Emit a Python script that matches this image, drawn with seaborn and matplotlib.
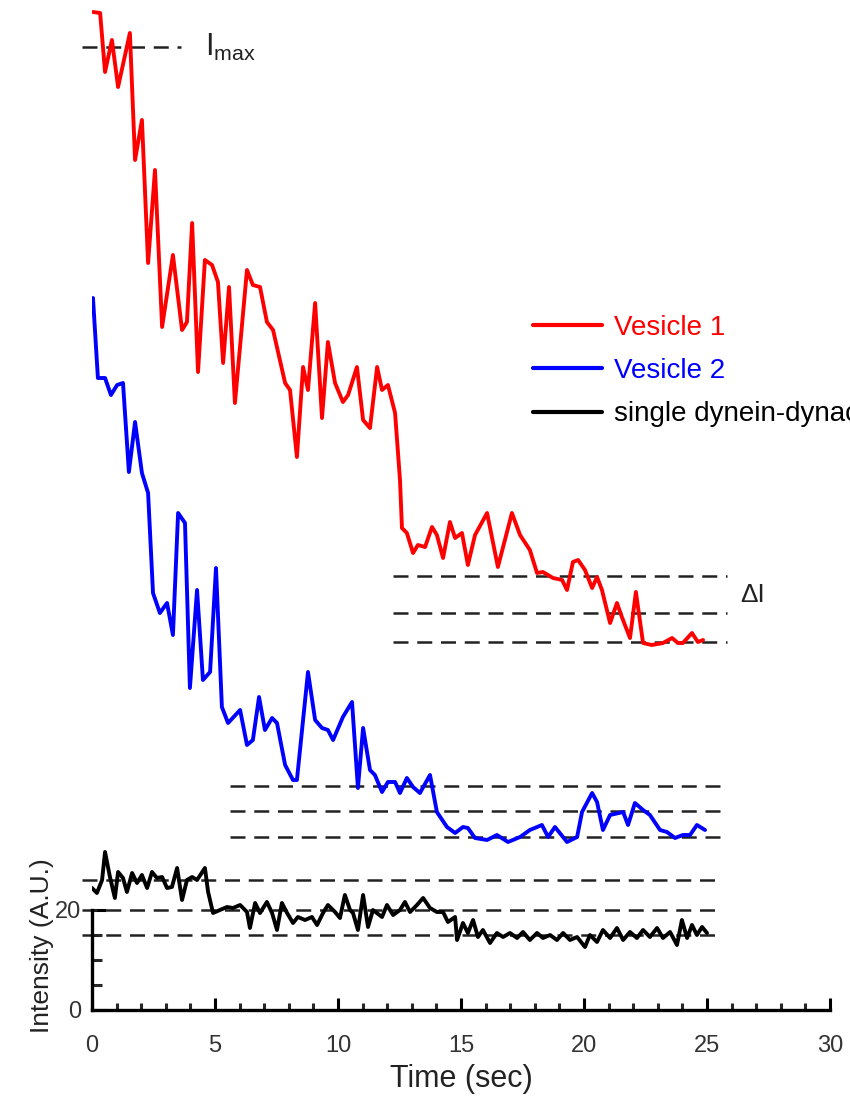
import numpy as np
import pandas as pd
import matplotlib
matplotlib.use("Agg")
import matplotlib.pyplot as plt
import seaborn as sns

# ---------------- data ----------------
red_t = [0.04, 0.33, 0.53, 0.81, 1.06, 1.54, 1.75, 2.03, 2.28, 2.56, 2.85, 3.29, 3.66, 3.86, 4.07,
         4.31, 4.59, 4.88, 5.12, 5.33, 5.57, 5.81, 6.30, 6.54, 6.83, 7.11, 7.36, 7.85, 8.05, 8.33,
         8.58, 8.78, 9.07, 9.35, 9.59, 9.88, 10.20, 10.41, 10.77, 11.02, 11.30, 11.59, 11.79, 12.03,
         12.32, 12.52, 12.60, 12.80, 13.05, 13.25, 13.54, 13.82, 14.02, 14.27, 14.55, 14.76, 15.04,
         15.28, 15.57, 16.06, 16.50, 17.07, 17.40, 17.80, 18.09, 18.33, 18.74, 19.11, 19.31, 19.55,
         19.76, 20.04, 20.33, 20.53, 20.73, 21.06, 21.34, 21.54, 21.87, 22.11, 22.40, 22.76, 23.21,
         23.58, 23.82, 24.02, 24.39, 24.63, 24.84]
red_i = [199.6, 199.4, 187.6, 194.0, 184.6, 195.4, 170.0, 178.0, 149.4, 168.0, 136.6, 151.0, 136.0,
         137.6, 157.4, 127.6, 150.0, 149.0, 145.6, 129.4, 144.6, 121.4, 148.0, 145.0, 144.6, 137.6,
         136.0, 125.4, 124.0, 110.6, 128.6, 124.0, 141.4, 118.4, 133.6, 125.4, 121.6, 123.0, 128.6,
         118.0, 116.4, 128.6, 124.0, 125.0, 119.4, 106.0, 96.4, 95.4, 91.4, 93.0, 92.6, 96.6, 95.0,
         90.4, 97.6, 94.4, 95.4, 89.0, 95.0, 99.4, 88.6, 99.4, 95.0, 92.0, 87.4, 87.6, 86.4, 86.0,
         84.0, 89.6, 90.0, 88.0, 84.4, 86.6, 84.0, 77.4, 81.4, 78.6, 74.4, 83.6, 73.4, 73.0, 73.4,
         74.4, 73.4, 73.4, 75.4, 73.6, 74.0]

blue_t = [0.04, 0.24, 0.53, 0.77, 1.02, 1.26, 1.50, 1.75, 2.03, 2.28, 2.48, 2.76, 3.05, 3.29, 3.50,
          3.78, 3.98, 4.27, 4.51, 4.80, 5.04, 5.28, 5.53, 6.02, 6.30, 6.54, 6.79, 7.03, 7.32, 7.52,
          7.85, 8.17, 8.33, 8.78, 9.07, 9.35, 9.59, 9.80, 10.20, 10.57, 10.81, 11.02, 11.30, 11.50,
          11.79, 12.03, 12.32, 12.52, 12.80, 13.05, 13.33, 13.74, 14.02, 14.43, 14.76, 15.08, 15.28,
          15.57, 16.06, 16.46, 16.91, 17.40, 17.80, 18.29, 18.54, 18.82, 19.31, 19.72, 19.92, 20.33,
          20.53, 20.77, 21.06, 21.59, 21.79, 22.07, 22.40, 22.68, 23.09, 23.37, 23.70, 24.02, 24.31,
          24.59, 24.92]
blue_i = [142.4, 126.4, 126.4, 123.0, 125.0, 125.4, 107.6, 117.6, 107.4, 103.4, 83.4, 79.4, 81.4,
          75.0, 99.4, 97.4, 64.4, 84.0, 66.0, 67.6, 88.4, 60.6, 57.4, 60.0, 53.0, 54.0, 62.6, 56.0,
          58.4, 57.4, 49.0, 46.0, 46.0, 67.6, 58.0, 56.4, 56.0, 54.0, 58.6, 61.6, 44.4, 56.4, 48.0,
          47.0, 43.6, 45.6, 45.6, 43.4, 46.4, 44.6, 43.4, 47.0, 39.6, 36.6, 35.4, 36.6, 36.4, 34.4,
          34.0, 35.0, 33.6, 34.6, 36.0, 37.0, 34.6, 36.6, 33.6, 34.6, 39.6, 43.4, 41.6, 36.0, 39.0,
          39.6, 37.0, 41.4, 40.0, 39.0, 36.0, 35.6, 34.4, 35.0, 35.0, 37.0, 36.0]

black_t = [0.00, 0.20, 0.41, 0.53, 0.73, 0.93, 1.06, 1.26, 1.42, 1.63, 1.83, 2.03, 2.24, 2.44, 2.64,
           2.85, 3.05, 3.25, 3.46, 3.66, 3.86, 4.07, 4.27, 4.59, 4.72, 4.92, 5.20, 5.49, 5.73, 6.02,
           6.30, 6.42, 6.63, 6.83, 7.11, 7.32, 7.52, 7.72, 7.93, 8.17, 8.37, 8.66, 8.94, 9.15, 9.39,
           9.59, 9.88, 10.08, 10.28, 10.49, 10.61, 10.81, 11.02, 11.22, 11.42, 11.79, 11.99, 12.24,
           12.52, 12.72, 12.93, 13.21, 13.46, 13.74, 14.02, 14.27, 14.47, 14.76, 14.84, 15.08, 15.28,
           15.49, 15.69, 15.89, 16.18, 16.46, 16.71, 16.99, 17.28, 17.52, 17.80, 18.09, 18.33, 18.62,
           18.90, 19.15, 19.43, 19.72, 20.04, 20.24, 20.53, 20.77, 21.06, 21.34, 21.59, 21.87, 22.15,
           22.40, 22.68, 22.97, 23.21, 23.50, 23.78, 23.98, 24.19, 24.39, 24.59, 24.80, 25.00]
black_i = [24.4, 23.4, 26.0, 31.6, 26.6, 22.4, 27.6, 26.4, 23.6, 27.4, 25.4, 27.0, 24.4, 27.6, 26.4,
           26.6, 24.4, 24.6, 28.4, 22.0, 26.0, 26.6, 26.0, 28.4, 23.6, 19.4, 20.0, 20.6, 20.4, 21.0,
           19.6, 16.4, 21.4, 19.4, 21.6, 19.4, 16.0, 21.4, 19.4, 17.4, 18.6, 18.0, 18.6, 17.0, 19.4,
           21.0, 19.6, 18.4, 23.0, 20.0, 19.4, 16.0, 23.0, 16.6, 20.0, 18.6, 21.0, 19.0, 20.0, 21.6,
           19.6, 21.0, 22.4, 20.4, 19.6, 19.6, 17.6, 18.6, 14.0, 17.4, 15.4, 18.0, 14.6, 16.0, 13.4,
           15.4, 14.6, 15.4, 14.4, 15.6, 14.0, 15.4, 14.4, 15.0, 14.0, 15.4, 14.0, 14.6, 12.6, 15.0,
           13.6, 16.0, 14.4, 16.4, 14.0, 15.6, 14.4, 16.0, 14.6, 16.4, 14.4, 15.6, 13.0, 18.0, 14.4,
           17.0, 15.0, 16.6, 15.4]

series_labels = ["Vesicle 1", "Vesicle 2", "single dynein-dynactin"]
series_colors = ["#ff0000", "#0000ff", "#000000"]

imax_level = 192.6
red_levels = [86.8, 79.4, 73.6]
blue_levels = [44.8, 39.8, 34.6]
black_levels = [26.0, 20.0, 15.0]

x_ticks = [0, 5, 10, 15, 20, 25, 30]
y_ticks = [0, 20]

# ---------------- plot ----------------
sns.set_style("white")
plt.rcParams["font.family"] = ["Liberation Sans", "DejaVu Sans"]
plt.rcParams["mathtext.fontset"] = "custom"
plt.rcParams["mathtext.rm"] = "Liberation Sans"
plt.rcParams["mathtext.it"] = "Liberation Sans"

fig = plt.figure(figsize=(8.5, 11.01), dpi=100)
ax = fig.add_axes([92 / 850, 91 / 1101, 738 / 850, 1010 / 1101])

dash_kw = dict(color="#222222", lw=1.8, dashes=(6, 3.5))

ax.plot([-0.4, 3.6], [imax_level, imax_level], clip_on=False, **dash_kw)
for lv in red_levels:
    ax.plot([12.24, 25.8], [lv, lv], clip_on=False, **dash_kw)
for lv in blue_levels:
    ax.plot([5.6, 25.8], [lv, lv], clip_on=False, **dash_kw)
for lv in black_levels:
    ax.plot([-0.4, 25.4], [lv, lv], clip_on=False, **dash_kw)

df_red = pd.DataFrame({"t": red_t, "i": red_i})
df_blue = pd.DataFrame({"t": blue_t, "i": blue_i})
df_black = pd.DataFrame({"t": black_t, "i": black_i})

sns.lineplot(data=df_red, x="t", y="i", ax=ax, color=series_colors[0], lw=2.8,
             label=series_labels[0], sort=False, estimator=None)
sns.lineplot(data=df_blue, x="t", y="i", ax=ax, color=series_colors[1], lw=2.8,
             label=series_labels[1], sort=False, estimator=None)
sns.lineplot(data=df_black, x="t", y="i", ax=ax, color=series_colors[2], lw=2.8,
             label=series_labels[2], sort=False, estimator=None)

ax.set_xlim(0, 30)
ax.set_ylim(0, 202)

for s in ["top", "right"]:
    ax.spines[s].set_visible(False)
ax.spines["left"].set_bounds(0, 20)
ax.spines["left"].set_linewidth(2.4)
ax.spines["bottom"].set_linewidth(2.4)
ax.spines["left"].set_color("black")
ax.spines["bottom"].set_color("black")

ax.set_xticks(x_ticks)
ax.set_xticks(np.arange(0, 31, 1), minor=True)
ax.set_yticks(y_ticks)
ax.set_yticks([5, 10, 15], minor=True)
ax.tick_params(axis="x", which="both", bottom=True, top=False)
ax.tick_params(axis="y", which="both", left=True, right=False)
ax.tick_params(axis="x", which="major", direction="in", length=9, width=2.2, labelsize=17, pad=18)
ax.tick_params(axis="x", which="minor", direction="in", length=5, width=2.2)
ax.tick_params(axis="y", which="major", direction="in", length=10, width=2.2, labelsize=17, pad=8)
ax.tick_params(axis="y", which="minor", direction="in", length=7, width=2.2)
ax.tick_params(colors="black", labelcolor="#333333")

ax.set_xlabel("Time (sec)", fontsize=22, color="#222222", labelpad=5)
ax.set_ylabel("Intensity (A.U.)", fontsize=19, color="#222222")
ax.yaxis.set_label_coords(-0.052, 0.064)

ax.text(4.59, imax_level, r"I$_{\mathregular{max}}$", fontsize=22, va="center", ha="left",
        color="#222222")
ax.text(26.34, 83.0, "ΔI", fontsize=19, va="center", ha="left", color="#222222",
        family=["Liberation Sans", "DejaVu Sans"])

leg = ax.legend(loc="upper left", bbox_to_anchor=(533 / 850, 1 - 315 / 1101),
                bbox_transform=fig.transFigure, frameon=False, fontsize=20,
                handlelength=2.5, handletextpad=0.4, labelspacing=0.62, borderpad=0,
                borderaxespad=0, labelcolor="linecolor")
for h in leg.get_lines():
    h.set_linewidth(3)

fig.savefig("out.png", dpi=100)
